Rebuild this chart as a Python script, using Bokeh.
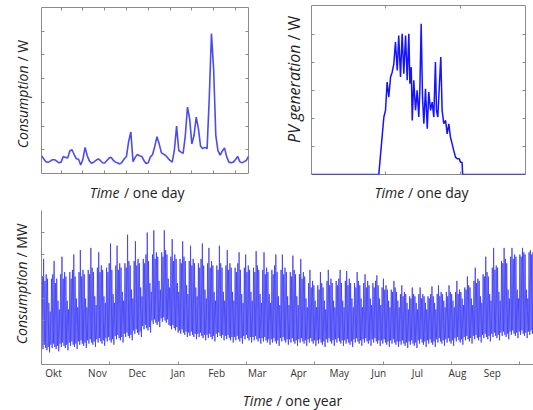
import math
from bokeh.plotting import figure
from bokeh.models import Range1d, LinearAxis, FixedTicker, Label, CustomJSTickFormatter
from bokeh.layouts import column, row
from bokeh.embed import file_html
from bokeh.resources import INLINE

# ---------------- data ----------------
# one day of household consumption, 96 quarter-hour slots
day_slot = list(range(1, 97))
day_consumption = [
    0.75, 0.62, 0.50, 0.47, 0.52, 0.58, 0.58, 0.52, 0.45, 0.48,
    0.72, 0.68, 0.65, 0.95, 1.00, 0.80, 0.62, 0.60, 0.36, 0.60,
    1.10, 0.75, 0.52, 0.43, 0.48, 0.55, 0.62, 0.55, 0.45, 0.44,
    0.55, 0.65, 0.68, 0.55, 0.48, 0.44, 0.40, 0.48, 0.62, 0.72,
    1.35, 1.75, 0.50, 0.68, 0.80, 0.75, 0.72, 0.55, 0.42, 0.45,
    0.70, 0.80, 1.15, 1.55, 1.25, 0.88, 0.82, 0.76, 0.65, 0.55,
    0.48, 1.00, 2.00, 0.97, 0.90, 0.85, 1.60, 2.80, 2.30, 1.25,
    1.60, 2.38, 1.90, 1.15, 1.05, 1.10, 1.05, 3.20, 5.90, 4.40,
    1.60, 0.95, 0.78, 0.95, 1.08, 0.70, 0.48, 0.45, 0.48, 0.58,
    0.72, 0.50, 0.45, 0.50, 0.55, 0.72]

# one day of PV generation (time in minutes)
pv_minutes = [0, 453, 471, 487, 498, 509, 520, 532, 543, 554,
              565, 577, 587, 599, 610, 621, 633, 644, 655, 662,
              671, 678, 688, 700, 711, 722, 729, 738, 747, 756,
              767, 779, 789, 801, 812, 823, 834, 841, 850, 861,
              870, 879, 890, 902, 913, 924, 935, 946, 957, 969,
              980, 995, 1002, 1013, 1017, 1440]
pv_power = [0, 0, 1.10, 2.05, 2.29, 3.30, 2.76, 3.48, 3.65, 3.95,
            4.73, 3.71, 4.96, 3.48, 5.02, 3.60, 4.96, 3.36, 5.02, 3.24,
            3.83, 1.93, 3.36, 2.29, 3.00, 2.05, 3.00, 5.38, 2.76, 1.81,
            3.06, 1.63, 2.94, 2.29, 2.58, 2.05, 4.01, 2.29, 2.05, 3.24,
            4.19, 2.29, 1.81, 1.93, 1.45, 1.81, 1.33, 1.10, 0.86, 0.62,
            0.56, 0.56, 0.44, 0.44, 0, 0]

# one year of grid consumption: daily maxima / minima, one row per week (from October)
year_daily_high = [
    [4.0, 4.8, 3.8, 4.1, 3.9, 2.8, 2.4], [3.9, 4.1, 4.7, 3.7, 3.9, 2.9, 2.5],
    [4.1, 4.9, 3.9, 4.2, 4.0, 2.9, 2.5], [4.2, 3.9, 4.3, 5.0, 4.0, 3.0, 2.6],
    [4.2, 5.2, 4.0, 4.3, 4.1, 3.0, 2.6], [4.3, 4.1, 5.3, 4.4, 4.2, 3.1, 2.7],
    [4.4, 5.1, 4.2, 4.5, 4.3, 3.1, 2.8], [4.4, 4.2, 4.6, 5.5, 4.3, 3.2, 2.8],
    [4.5, 5.4, 4.3, 4.6, 4.4, 3.3, 2.9], [4.6, 4.4, 5.9, 4.7, 4.5, 3.4, 3.0],
    [4.7, 5.6, 4.5, 4.8, 4.6, 3.5, 3.1], [4.8, 4.6, 5.0, 6.0, 4.7, 3.7, 3.3],
    [5.0, 6.1, 4.8, 5.1, 4.9, 3.8, 3.4], [5.1, 4.9, 6.1, 5.2, 5.0, 3.9, 3.5],
    [4.9, 5.7, 4.7, 5.0, 4.8, 3.7, 3.3], [4.8, 4.6, 5.6, 4.9, 4.7, 3.6, 3.2],
    [4.7, 5.4, 4.5, 4.8, 4.6, 3.5, 3.1], [4.6, 4.4, 4.8, 5.5, 4.5, 3.4, 3.0],
    [4.6, 5.3, 4.4, 4.7, 4.5, 3.3, 2.9], [4.5, 4.3, 5.4, 4.6, 4.4, 3.3, 2.9],
    [4.5, 5.2, 4.3, 4.6, 4.4, 3.3, 2.9], [4.4, 4.2, 4.6, 5.1, 4.3, 3.2, 2.8],
    [4.4, 5.0, 4.2, 4.5, 4.3, 3.3, 2.9], [4.4, 4.2, 5.15, 4.5, 4.3, 3.2, 2.8],
    [4.3, 5.1, 4.1, 4.4, 4.2, 3.2, 2.8], [4.3, 4.1, 4.5, 5.0, 4.2, 3.1, 2.7],
    [4.3, 5.0, 4.1, 4.4, 4.2, 3.1, 2.7], [4.2, 4.0, 4.95, 4.3, 4.1, 3.1, 2.7],
    [4.1, 4.8, 3.9, 4.2, 4.0, 3.0, 2.6], [3.7, 4.3, 3.5, 3.8, 3.6, 2.9, 2.6],
    [3.6, 3.4, 4.2, 3.7, 3.5, 2.9, 2.5], [3.8, 4.3, 3.6, 3.9, 3.7, 2.9, 2.6],
    [3.8, 3.6, 3.9, 4.3, 3.7, 2.9, 2.6], [3.8, 4.25, 3.6, 3.9, 3.7, 3.0, 2.6],
    [3.7, 3.5, 4.2, 3.8, 3.6, 3.0, 2.6], [3.7, 4.1, 3.5, 3.8, 3.6, 3.0, 2.7],
    [3.7, 3.5, 3.8, 4.05, 3.6, 3.0, 2.7], [3.5, 3.9, 3.4, 3.6, 3.4, 2.9, 2.6],
    [3.4, 3.3, 3.8, 3.5, 3.3, 2.9, 2.6], [3.2, 3.6, 3.1, 3.3, 3.2, 2.8, 2.5],
    [3.1, 3.0, 3.5, 3.2, 3.1, 2.8, 2.5], [3.2, 3.5, 3.0, 3.2, 3.1, 2.8, 2.5],
    [3.1, 3.0, 3.2, 3.55, 3.1, 2.8, 2.5], [3.2, 3.6, 3.1, 3.3, 3.2, 2.9, 2.6],
    [3.3, 3.1, 3.6, 3.3, 3.2, 2.9, 2.6], [3.3, 3.8, 3.2, 3.4, 3.3, 3.0, 2.7],
    [3.5, 3.4, 4.0, 3.6, 3.5, 3.0, 2.7], [3.8, 4.4, 3.7, 3.9, 3.8, 3.1, 2.8],
    [4.1, 4.0, 4.9, 4.2, 4.0, 3.2, 2.9], [4.4, 5.3, 4.3, 4.5, 4.4, 3.3, 2.9],
    [4.7, 4.6, 5.3, 4.8, 4.6, 3.4, 3.0], [4.9, 5.3, 4.8, 5.0, 4.9, 3.4, 3.0],
    [5.0, 4.9, 5.3, 5.1, 5.0, 3.4, 3.0], [5.1, 5.2, 5.0, 5.1, 5.0, 3.4, 3.0]]
year_daily_low = [
    [0.85, 0.70, 0.90, 0.75, 0.65, 0.80, 0.55], [0.90, 0.75, 0.95, 0.80, 0.70, 0.85, 0.60],
    [0.95, 0.80, 1.00, 0.85, 0.75, 0.90, 0.65], [1.00, 0.85, 1.05, 0.90, 0.80, 0.95, 0.70],
    [1.05, 0.90, 1.10, 0.95, 0.85, 1.00, 0.75], [1.10, 0.95, 1.15, 1.00, 0.90, 1.05, 0.80],
    [1.15, 1.00, 1.20, 1.05, 0.95, 1.10, 0.85], [1.20, 1.05, 1.25, 1.10, 1.00, 1.15, 0.90],
    [1.30, 1.15, 1.35, 1.20, 1.10, 1.25, 1.00], [1.40, 1.25, 1.45, 1.30, 1.20, 1.35, 1.10],
    [1.55, 1.40, 1.60, 1.45, 1.35, 1.50, 1.25], [1.75, 1.60, 1.80, 1.65, 1.55, 1.70, 1.45],
    [2.00, 1.85, 2.05, 1.90, 1.80, 1.95, 1.70], [2.10, 1.95, 2.15, 2.00, 1.90, 2.05, 1.80],
    [1.75, 1.60, 1.80, 1.65, 1.55, 1.70, 1.45], [1.55, 1.40, 1.60, 1.45, 1.35, 1.50, 1.25],
    [1.45, 1.30, 1.50, 1.35, 1.25, 1.40, 1.15], [1.40, 1.25, 1.45, 1.30, 1.20, 1.35, 1.10],
    [1.35, 1.20, 1.40, 1.25, 1.15, 1.30, 1.05], [1.40, 1.25, 1.45, 1.30, 1.20, 1.35, 1.10],
    [1.30, 1.15, 1.35, 1.20, 1.10, 1.25, 1.00], [1.25, 1.10, 1.30, 1.15, 1.05, 1.20, 0.95],
    [1.30, 1.15, 1.35, 1.20, 1.10, 1.25, 1.00], [1.25, 1.10, 1.30, 1.15, 1.05, 1.20, 0.95],
    [1.20, 1.05, 1.25, 1.10, 1.00, 1.15, 0.90], [1.15, 1.00, 1.20, 1.05, 0.95, 1.10, 0.85],
    [1.20, 1.05, 1.25, 1.10, 1.00, 1.15, 0.90], [1.15, 1.00, 1.20, 1.05, 0.95, 1.10, 0.85],
    [1.15, 1.00, 1.20, 1.05, 0.95, 1.10, 0.85], [1.15, 1.00, 1.20, 1.05, 0.95, 1.10, 0.85],
    [1.10, 0.95, 1.15, 1.00, 0.90, 1.05, 0.80], [1.15, 1.00, 1.20, 1.05, 0.95, 1.10, 0.85],
    [1.15, 1.00, 1.20, 1.05, 0.95, 1.10, 0.85], [1.10, 0.95, 1.15, 1.00, 0.90, 1.05, 0.80],
    [1.15, 1.00, 1.20, 1.05, 0.95, 1.10, 0.85], [1.15, 1.00, 1.20, 1.05, 0.95, 1.10, 0.85],
    [1.15, 1.00, 1.20, 1.05, 0.95, 1.10, 0.85], [1.10, 0.95, 1.15, 1.00, 0.90, 1.05, 0.80],
    [1.10, 0.95, 1.15, 1.00, 0.90, 1.05, 0.80], [1.05, 0.90, 1.10, 0.95, 0.85, 1.00, 0.75],
    [1.05, 0.90, 1.10, 0.95, 0.85, 1.00, 0.75], [1.10, 0.95, 1.15, 1.00, 0.90, 1.05, 0.80],
    [1.10, 0.95, 1.15, 1.00, 0.90, 1.05, 0.80], [1.15, 1.00, 1.20, 1.05, 0.95, 1.10, 0.85],
    [1.15, 1.00, 1.20, 1.05, 0.95, 1.10, 0.85], [1.20, 1.05, 1.25, 1.10, 1.00, 1.15, 0.90],
    [1.25, 1.10, 1.30, 1.15, 1.05, 1.20, 0.95], [1.30, 1.15, 1.35, 1.20, 1.10, 1.25, 1.00],
    [1.35, 1.20, 1.40, 1.25, 1.15, 1.30, 1.05], [1.40, 1.25, 1.45, 1.30, 1.20, 1.35, 1.10],
    [1.45, 1.30, 1.50, 1.35, 1.25, 1.40, 1.15], [1.50, 1.35, 1.55, 1.40, 1.30, 1.45, 1.20],
    [1.50, 1.35, 1.55, 1.40, 1.30, 1.45, 1.20], [1.50, 1.35, 1.55, 1.40, 1.30, 1.45, 1.20]]

month_names = ["Okt", "Nov", "Dec", "Jan", "Feb", "Mar", "Apr", "May", "Jun", "Jul", "Aug", "Sep"]
month_label_day = [9.1, 42.6, 73.0, 104.0, 133.5, 164.5, 196.0, 227.0, 257.0, 286.5, 317.0, 343.6]

# ---------------- style ----------------
FONT = "Open Sans"
AX = "#8a8a8a"
TXT = "#222222"


def tick_axis(ax, ticks):
    ax.ticker = FixedTicker(ticks=ticks)
    ax.formatter = CustomJSTickFormatter(code="return ''")
    ax.major_label_text_font_size = "1px"
    ax.major_label_standoff = 0
    ax.major_tick_in = 3
    ax.major_tick_out = 0
    ax.minor_tick_line_color = None
    ax.major_tick_line_color = AX
    ax.axis_line_color = None


def make_fig(w, h, xr, yr, bl, br, bt, bb, box=True):
    p = figure(width=w, height=h, x_range=xr, y_range=yr, output_backend="svg",
               toolbar_location=None, min_border_left=bl, min_border_right=br,
               min_border_top=bt, min_border_bottom=bb)
    p.grid.visible = False
    p.outline_line_color = AX if box else None
    p.background_fill_color = "white"
    p.border_fill_color = "white"
    return p


def text_strip(w, h):
    # an empty panel (no axes) whose pixel coordinates are its data coordinates
    f = figure(width=w, height=h, x_range=Range1d(0, w), y_range=Range1d(0, h),
               output_backend="svg", toolbar_location=None,
               x_axis_location=None, y_axis_location=None, min_border=0)
    f.grid.visible = False
    f.outline_line_color = None
    f.background_fill_color = "white"
    f.border_fill_color = "white"
    return f


def add_text(f, x, y, text, italic, align, angle=0.0, size="14px"):
    f.add_layout(Label(x=x, y=y, text=text, angle=angle, text_font=FONT,
                       text_font_size=size,
                       text_font_style="italic" if italic else "normal",
                       text_color=TXT, text_align=align, text_baseline="middle"))


# ---------------- top left: consumption one day ----------------
p1 = make_fig(231, 175, Range1d(1, 96), Range1d(0, 7), 2, 22, 7, 2)
p1.line(day_slot, day_consumption, line_color="#4b4bf2", line_width=1.6)
tick_axis(p1.xaxis[0], [10, 20, 30, 40, 50, 60, 70, 80, 90])
tick_axis(p1.yaxis[0], [1, 2, 3, 4, 5, 6])
ax_t = LinearAxis(); tick_axis(ax_t, [10, 20, 30, 40, 50, 60, 70, 80, 90]); p1.add_layout(ax_t, "above")
ax_r = LinearAxis(); tick_axis(ax_r, [1, 2, 3, 4, 5, 6]); p1.add_layout(ax_r, "right")

yl1 = text_strip(39, 205)
add_text(yl1, 22, 140, "Consumption", True, "right", math.pi / 2)
add_text(yl1, 22, 144, "/ W", False, "left", math.pi / 2)
xl1 = text_strip(231, 30)
add_text(xl1, 87, 13, "Time", True, "right")
add_text(xl1, 92, 13, "/ one day", False, "left")

# ---------------- top right: PV generation one day ----------------
p2 = make_fig(224, 176, Range1d(0, 1440), Range1d(0, 6.03), 2, 8, 5, 2)
p2.line(pv_minutes, pv_power, line_color="#1414ff", line_width=1.5)
tick_axis(p2.xaxis[0], [500, 1000])
tick_axis(p2.yaxis[0], [1, 2, 3, 4, 5])
ax_t2 = LinearAxis(); tick_axis(ax_t2, [500, 1000]); p2.add_layout(ax_t2, "above")
ax_r2 = LinearAxis(); tick_axis(ax_r2, [1, 2, 3, 4, 5]); p2.add_layout(ax_r2, "right")

yl2 = text_strip(39, 205)
add_text(yl2, 23, 161, "PV generation", True, "right", math.pi / 2, "16px")
add_text(yl2, 23, 165, "/ W", False, "left", math.pi / 2, "16px")
xl2 = text_strip(224, 29)
add_text(xl2, 97, 13, "Time", True, "right")
add_text(xl2, 101, 13, "/ one day", False, "left")

# ---------------- bottom: consumption one year ----------------
xs, ys = [], []
for w, (hi, lo) in enumerate(zip(year_daily_high, year_daily_low)):
    for d in range(7):
        day = 7 * w + d
        xs += [day + 0.15, day + 0.6]
        ys += [lo[d], hi[d]]

p3 = make_fig(494, 181, Range1d(0, 375), Range1d(0, 7), 2, 0, 5, 22, box=False)
p3.line(xs, ys, line_color="#3636f6", line_width=0.85, line_alpha=0.9)
tick_axis(p3.xaxis[0], [k * 5000 / 96 for k in range(1, 8)])
p3.xaxis[0].axis_line_color = AX
tick_axis(p3.yaxis[0], [1, 2, 3, 4, 5, 6])
p3.yaxis[0].axis_line_color = AX
mx = LinearAxis(ticker=FixedTicker(ticks=month_label_day),
                major_label_overrides={v: n for v, n in zip(month_label_day, month_names)})
mx.major_tick_line_color = None
mx.major_tick_in = 0
mx.major_tick_out = 0
mx.minor_tick_line_color = None
mx.axis_line_color = None
mx.major_label_standoff = 1
mx.major_label_text_font = FONT
mx.major_label_text_font_size = "10px"
mx.major_label_text_color = "#333333"
p3.add_layout(mx, "below")

yl3 = text_strip(39, 205)
add_text(yl3, 21, 149, "Consumption", True, "right", math.pi / 2)
add_text(yl3, 21, 153, "/ MW", False, "left", math.pi / 2)
xl3 = text_strip(494, 24)
add_text(xl3, 232, 10, "Time", True, "right")
add_text(xl3, 236, 10, "/ one year", False, "left")

top = row(yl1, column(p1, xl1), yl2, column(p2, xl2))
bottom = row(yl3, column(p3, xl3))
layout = column(top, bottom)
open("out.html", "w").write(file_html(layout, INLINE))
